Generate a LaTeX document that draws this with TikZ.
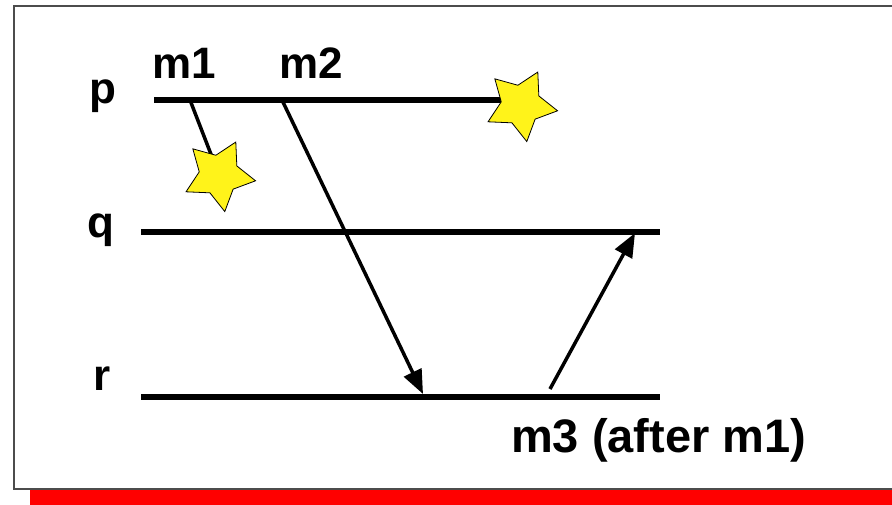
\documentclass[tikz,border=0pt]{standalone}
\usepackage{fontspec}
\setmainfont{Liberation Sans}
\usetikzlibrary{arrows.meta,shapes.geometric}

\begin{document}
\begin{tikzpicture}[
  x=1pt, y=-1pt,
  procline/.style={line width=6pt},
  msg/.style={line width=3.5pt},
  msgarr/.style={msg, -{Triangle[length=24pt,width=19pt]}},
  lbl/.style={anchor=base west, inner sep=0pt,
    font=\fontsize{44}{52}\selectfont\bfseries},
  biglbl/.style={lbl, font=\fontsize{47}{56}\selectfont\bfseries},
  burst/.style={star, star points=5, star point ratio=1.85,
    minimum size=74pt, inner sep=0pt, rotate=-27,
    draw=black, line width=0.8pt, fill=yellow!90!white}
]
\clip (0,0) rectangle (892,504);
% frame and bottom bar
\fill[white] (0,0) rectangle (892,504);
\fill[red] (30,490) rectangle (900,510);
\draw[black!70, line width=1.5pt] (14,6) rectangle (900,489);
% process labels
\node[lbl] (lp) at (89,103) {p};
\node[lbl] (lq) at (87,237) {q};
\node[lbl] (lr) at (93,390) {r};
\node[lbl] (lm1) at (152,78) {m1};
\node[lbl] (lm2) at (279,78) {m2};
\node[biglbl] (lm3) at (511,452) {m3 (after m1)};
% time lines
\coordinate (p0) at (154,100);
\coordinate (q0) at (141,232);
\coordinate (q1) at (660,232);
\coordinate (r0) at (141,397);
\coordinate (r1) at (660,397);
\coordinate (s1) at (219,175);
\coordinate (s2) at (521,105);
\draw[procline] (p0) -- (s2 |- p0);
\draw[procline] (q0) -- (q1);
\draw[procline] (r0) -- (r1);
% messages
\coordinate (m1s) at (190,100);
\coordinate (m2s) at (282,100);
\coordinate (m2e) at (423,394);
\coordinate (m3s) at (550,389);
\coordinate (m3e) at (635,233);
\draw[msg] (m1s) -- (s1);
\draw[msgarr] (m2s) -- (m2e);
\draw[msgarr] (m3s) -- (m3e);
% lost messages
\node[burst] (st1) at (s1) {};
\node[burst] (st2) at (s2) {};
\end{tikzpicture}
\end{document}
